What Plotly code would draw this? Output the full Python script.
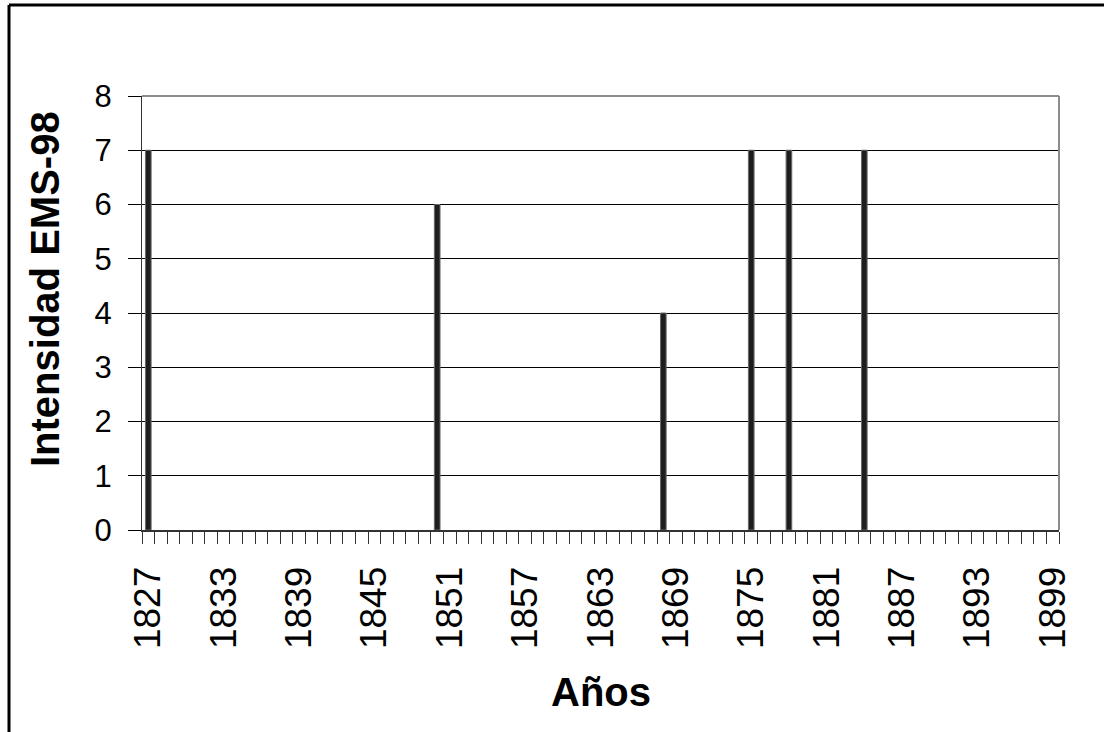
import plotly.graph_objects as go

years = list(range(1827, 1900))
event_years = [1827, 1850, 1868, 1875, 1878, 1884]
event_values = [7, 6, 4, 7, 7, 7]
intensity = [event_values[event_years.index(y)] if y in event_years else 0 for y in years]
tick_years = list(range(1827, 1900, 6))
tick_labels = [str(y) for y in tick_years]

W, H = 1104, 732
L, R, T, B = 142, 45, 96, 202
pw, ph = W - L - R, H - T - B

def px(x):
    return (x - L) / pw

def py(y):
    return (H - B - y) / ph

fig = go.Figure()
fig.add_trace(go.Bar(
    x=years, y=intensity, width=0.45,
    marker=dict(color="#1e1e1e",
                line=dict(color="#6a6a6a", width=[1 if v > 0 else 0 for v in intensity])),
    hoverinfo="x+y",
))

fig.update_layout(
    width=W, height=H,
    margin=dict(l=L, r=R, t=T, b=B),
    paper_bgcolor="white", plot_bgcolor="white",
    showlegend=False,
    font=dict(family="Liberation Sans, Arial, sans-serif", color="black"),
    xaxis=dict(
        range=[1826.5, 1899.5],
        tickmode="array", tickvals=tick_years, ticktext=tick_labels,
        tickangle=-90, ticks="", showgrid=False, zeroline=False,
        tickfont=dict(size=37), ticklabelstandoff=20,
        showline=True, linecolor="#333333", linewidth=2,
        minor=dict(tick0=1826.5, dtick=1, ticks="outside", ticklen=12,
                   tickcolor="#333333", tickwidth=1, showgrid=False),
    ),
    yaxis=dict(
        range=[0, 8], tick0=0, dtick=1,
        ticks="outside", ticklen=13, tickcolor="black", tickwidth=1,
        showgrid=True, gridcolor="black", gridwidth=1,
        zeroline=False, showline=True, linecolor="#333333", linewidth=1,
        tickfont=dict(size=31), ticklabelstandoff=10,
    ),
)

shapes = [
    dict(type="line", xref="paper", yref="paper", x0=0, x1=1, y0=1, y1=1,
         line=dict(color="#8c8c8c", width=2), layer="above"),
    dict(type="line", xref="paper", yref="paper", x0=1, x1=1, y0=0, y1=1,
         line=dict(color="#8c8c8c", width=2), layer="above"),
    dict(type="line", xref="paper", yref="paper", x0=px(9), x1=px(9), y0=py(5), y1=py(740),
         line=dict(color="black", width=3), layer="above"),
    dict(type="line", xref="paper", yref="paper", x0=px(9), x1=px(1110), y0=py(5), y1=py(5),
         line=dict(color="black", width=3), layer="above"),
]
fig.update_layout(shapes=shapes)

fig.add_annotation(text="<b>Intensidad EMS-98</b>", xref="paper", yref="paper",
                   x=px(45), y=py(289), textangle=-90, showarrow=False,
                   xanchor="center", yanchor="middle", font=dict(size=40))
fig.add_annotation(text="<b>Años</b>", xref="paper", yref="paper",
                   x=px(601), y=py(692), showarrow=False,
                   xanchor="center", yanchor="middle", font=dict(size=40))

fig.write_html("out.html", config={"displayModeBar": False},
               post_script="document.body.style.margin='0';document.body.style.overflow='hidden';")
